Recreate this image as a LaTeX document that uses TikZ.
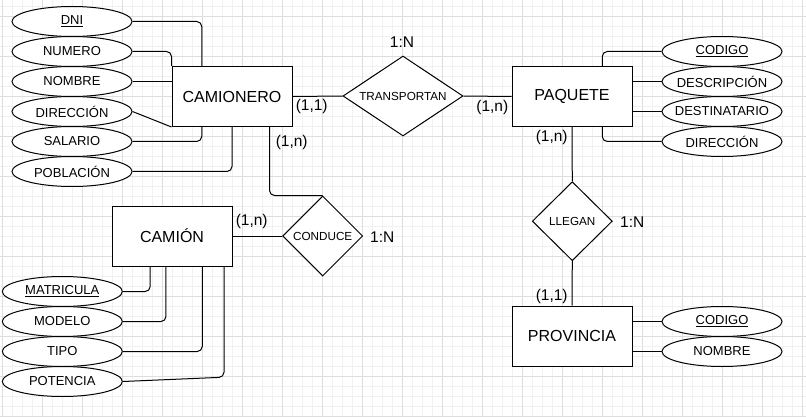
\documentclass[tikz,border=0pt]{standalone}
\usepackage{fontspec}
\setmainfont{Liberation Sans}
\usetikzlibrary{shapes.geometric,calc}
\definecolor{gridmajor}{HTML}{DEDEDE}
\definecolor{gridminor}{HTML}{F1F1F1}
\tikzset{
  entity/.style={draw, line width=1pt, fill=white, minimum width=120pt, minimum height=60pt, inner sep=0pt, font=\fontsize{16}{18}\selectfont},
  attr/.style={draw, ellipse, line width=1pt, fill=white, minimum width=120pt, minimum height=30pt, inner sep=0pt, font=\fontsize{13}{15}\selectfont},
  rel/.style={draw, diamond, line width=1pt, fill=white, inner sep=0pt, font=\fontsize{11.7}{13}\selectfont},
  card/.style={inner sep=0pt, font=\fontsize{15.5}{17}\selectfont},
  conn/.style={line width=1pt, rounded corners=5pt},
}
\newcommand{\ztext}[1]{\makebox[0pt]{#1}}
\begin{document}
\begin{tikzpicture}[x=1pt,y=-1pt]
\useasboundingbox (0,0) rectangle (806,417);
\fill[white] (0,0) rectangle (806,417);
% grid
\foreach \i in {0,...,80} \draw[gridminor, line width=1pt] (2.7+10*\i,0) -- (2.7+10*\i,417);
\foreach \i in {0,...,41} \draw[gridminor, line width=1pt] (0,6.7+10*\i) -- (806,6.7+10*\i);
\foreach \i in {0,...,20} \draw[gridmajor, line width=1pt] (2.7+40*\i,0) -- (2.7+40*\i,417);
\foreach \i in {0,...,10} \draw[gridmajor, line width=1pt] (0,16.7+40*\i) -- (806,16.7+40*\i);

% entities
\node[entity] (cam) at (232,96.5) {CAMIONERO};
\node[entity] (paq) at (572,96.5) {PAQUETE};
\node[entity] (cami) at (172,236) {CAMIÓN};
\node[entity] (prov) at (572,336) {PROVINCIA};

% relationships
\node[rel, minimum width=120pt, minimum height=80pt] (trans) at (403,96) {\ztext{TRANSPORTAN}};
\node[rel, minimum width=80pt, minimum height=80pt] (cond) at (322.7,236) {\ztext{CONDUCE}};
\node[rel, minimum width=80pt, minimum height=79pt] (lleg) at (572.3,221.2) {\ztext{LLEGAN}};

% CAMIONERO attributes
\node[attr] (dni) at (72,21.5) {\ztext{\underline{DNI}}};
\node[attr] (num) at (72,51.5) {\ztext{NUMERO}};
\node[attr] (nom) at (72,81.5) {\ztext{NOMBRE}};
\node[attr] (dir) at (72,111.5) {\ztext{DIRECCIÓN}};
\node[attr] (sal) at (72,141.5) {\ztext{SALARIO}};
\node[attr] (pob) at (72,171.5) {\ztext{POBLACIÓN}};

% PAQUETE attributes
\node[attr] (cod) at (722,51.5) {\ztext{\underline{CODIGO}}};
\node[attr] (desc) at (722,81.5) {\ztext{DESCRIPCIÓN}};
\node[attr] (dest) at (722,111.5) {\ztext{DESTINATARIO}};
\node[attr] (dirp) at (722,141.5) {\ztext{DIRECCIÓN}};

% PROVINCIA attributes
\node[attr] (codp) at (722,321.5) {\ztext{\underline{CODIGO}}};
\node[attr] (nomp) at (722,351.5) {\ztext{NOMBRE}};

% CAMION attributes
\node[attr] (mat) at (62.3,291.5) {\ztext{\underline{MATRICULA}}};
\node[attr] (mod) at (62.3,321.5) {\ztext{MODELO}};
\node[attr] (tipo) at (62.3,351.5) {\ztext{TIPO}};
\node[attr] (pot) at (62.3,381.5) {\ztext{POTENCIA}};

% connectors CAMIONERO
\draw[conn] (dni.east) -| ($(cam.north west)!0.25!(cam.north east)$);
\draw[conn] (num.east) -| (cam.north west);
\draw[conn] (nom.east) -- (nom.east -| cam.west);
\draw[conn] (dir.east) -- (cam.south west);
\draw[conn] (sal.east) -| ($(cam.south west)!0.25!(cam.south east)$);
\draw[conn] (pob.east) -| (cam.south);
\draw[conn] (cam.east) -- (trans.west);
\draw[conn] (trans.east) -- (paq.west);
\draw[conn] ($(cam.south west)!0.81!(cam.south east)$) |- (cond.north);

% connectors PAQUETE
\draw[conn] (cod.west) -| ($(paq.north west)!0.75!(paq.north east)$);
\draw[conn] (desc.west) -- (desc.west -| paq.east);
\draw[conn] (dest.west) -- (dest.west -| paq.east);
\draw[conn] ($(paq.south west)!0.75!(paq.south east)$) |- (dirp.west);
\draw[conn] (paq.south) -- (lleg.north);
\draw[conn] (lleg.south) -- (prov.north);

% connectors PROVINCIA
\draw[conn] (codp.west) -- (codp.west -| prov.east);
\draw[conn] (nomp.west) -- (nomp.west -| prov.east);

% connectors CAMION
\draw[conn] (cami.east) -- (cond.west);
\draw[conn] (mat.east) -| ($(cami.south west)!0.32!(cami.south east)$);
\draw[conn] (mod.east) -| ($(cami.south west)!0.45!(cami.south east)$);
\draw[conn] (tipo.east) -| ($(cami.south west)!0.75!(cami.south east)$);
\coordinate (potc) at ($(cami.south west)!0.93!(cami.south east) + (0,110.7)$);
\draw[conn] (pot.east) -- (potc) -- (potc |- cami.south);

% cardinality labels
\node[card] (t1) at (402,41.7) {1:N};
\node[card] (c11) at (311.7,106.7) {(1,1)};
\node[card] (c1n) at (492.3,107.3) {(1,n)};
\node[card] (cc1n) at (291.7,142) {(1,n)};
\node[card] (p1n) at (551.7,137.3) {(1,n)};
\node[card] (l1) at (632.3,221.7) {1:N};
\node[card] (pr11) at (551.7,296.7) {(1,1)};
\node[card] (ca1n) at (251.7,221.7) {(1,n)};
\node[card] (co1) at (382.3,236.7) {1:N};
\end{tikzpicture}
\end{document}
